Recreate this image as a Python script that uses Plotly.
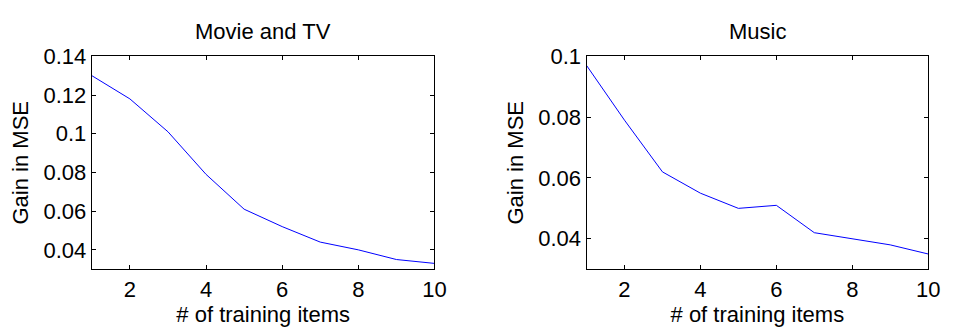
import plotly.graph_objects as go

# Number of training items (shared x values)
n_items = [1, 2, 3, 4, 5, 6, 7, 8, 9, 10]

# Gain in MSE per domain
gain_movie_tv = [0.130, 0.118, 0.101, 0.079, 0.061, 0.052, 0.044, 0.040, 0.035, 0.033]
gain_music = [0.097, 0.079, 0.062, 0.055, 0.050, 0.051, 0.042, 0.040, 0.038, 0.035]

# Tick values
x_ticks = [2, 4, 6, 8, 10]
y_ticks_movie = [0.04, 0.06, 0.08, 0.10, 0.12, 0.14]
y_ticks_music = [0.04, 0.06, 0.08, 0.10]

titles = ["Movie and TV", "Music"]
x_label = "# of training items"
y_label = "Gain in MSE"

W, H = 955, 327
FONT = "Liberation Sans, Arial, sans-serif"
TICK_FS = 22
LABEL_FS = 22
TITLE_FS = 22

fig = go.Figure()
fig.add_trace(go.Scatter(x=n_items, y=gain_movie_tv, mode="lines",
                         line=dict(color="#0000ff", width=1),
                         xaxis="x", yaxis="y", showlegend=False))
fig.add_trace(go.Scatter(x=n_items, y=gain_music, mode="lines",
                         line=dict(color="#0000ff", width=1),
                         xaxis="x2", yaxis="y2", showlegend=False))

# Plot-box geometry in pixels
left_box = (93, 440)
right_box = (594, 940)
top_px, bottom_px = 46, 267
ydom = [(H - bottom_px) / H, (H - top_px) / H]

common_axis = dict(
    showline=True, linecolor="black", linewidth=1.3, mirror="ticks",
    ticks="inside", ticklen=4, tickcolor="black", tickwidth=1,
    showgrid=False, zeroline=False,
    tickfont=dict(family=FONT, size=TICK_FS, color="black"),
)
xtitle = dict(text=x_label, standoff=0,
              font=dict(family=FONT, size=LABEL_FS, color="black"))
ytitle = dict(text=y_label, standoff=8,
              font=dict(family=FONT, size=LABEL_FS, color="black"))

fig.update_layout(
    width=W, height=H,
    margin=dict(l=0, r=0, t=0, b=0),
    paper_bgcolor="white", plot_bgcolor="white",
    font=dict(family=FONT, size=LABEL_FS, color="black"),
    xaxis=dict(domain=[left_box[0] / W, left_box[1] / W], range=[1, 10],
               tickvals=x_ticks, anchor="y", title=xtitle, **common_axis),
    yaxis=dict(domain=ydom, range=[0.03, 0.14], tickvals=y_ticks_movie,
               anchor="x", title=ytitle, **common_axis),
    xaxis2=dict(domain=[right_box[0] / W, right_box[1] / W], range=[1, 10],
                tickvals=x_ticks, anchor="y2", title=xtitle, **common_axis),
    yaxis2=dict(domain=ydom, range=[0.03, 0.10], tickvals=y_ticks_music,
                anchor="x2", title=ytitle, **common_axis),
)

for title, box in zip(titles, [left_box, right_box]):
    fig.add_annotation(text=title, xref="paper", yref="paper",
                       x=(box[0] + box[1]) / 2 / W, y=(H - 20) / H,
                       xanchor="center", yanchor="middle", showarrow=False,
                       font=dict(family=FONT, size=TITLE_FS, color="black"))

fig.write_html("out.html")
